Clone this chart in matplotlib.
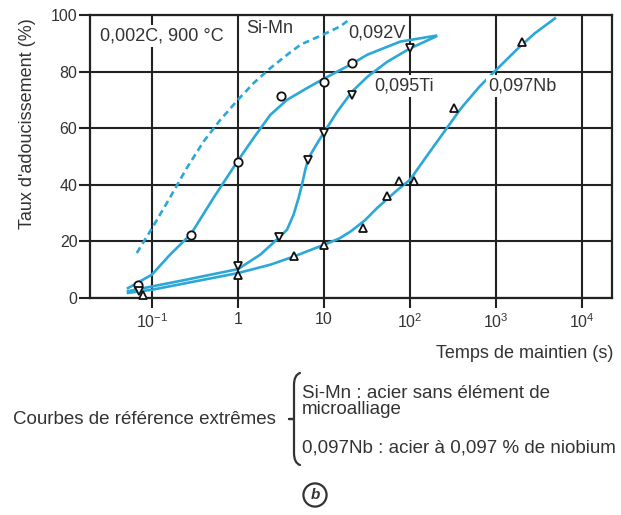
import numpy as np
import matplotlib
matplotlib.use('Agg')
import matplotlib.pyplot as plt
from matplotlib.patches import PathPatch
from matplotlib.path import Path

plt.rcParams['font.family'] = ['Liberation Sans', 'DejaVu Sans']
plt.rcParams['mathtext.fontset'] = 'custom'
plt.rcParams['mathtext.rm'] = 'Liberation Sans'
plt.rcParams['mathtext.default'] = 'regular'

# Softening curves, holding time (s) vs softening ratio (%)
simn_x = [0.067, 0.1, 0.163, 0.255, 0.40, 0.62, 1.0, 1.52, 2.38, 3.72, 5.4, 10, 15.5, 20.5]
simn_y = [15.9, 24.5, 35.5, 45.9, 55.3, 62.8, 70, 75.9, 81.2, 85.9, 89.6, 93.2, 96.0, 98.8]

v_curve_x = [0.053, 0.1, 0.163, 0.284, 0.52, 1.0, 1.52, 2.38, 3.72, 6.3, 10, 21.3, 32, 77, 200]
v_curve_y = [3.5, 8.2, 15.3, 22.5, 35.3, 48.5, 56.5, 64.7, 70.0, 74.1, 77.5, 82.8, 86.0, 90.6, 92.7]
v_pts_x = [0.07, 0.284, 1.0, 3.18, 10, 21.3]
v_pts_y = [4.5, 22.1, 48, 71.5, 76.5, 82.9]

ti_curve_x = [0.053, 0.255, 1.0, 1.82, 2.97, 3.72, 4.43, 5.07, 5.55, 6.07, 6.6, 7.92, 9.06,
              10, 14.3, 21.3, 32, 54.5, 100, 200]
ti_curve_y = [2.4, 6.5, 10.2, 15.3, 21.2, 24.1, 29.4, 35.3, 40, 45.3, 49.4, 53.5, 56.4,
              58.5, 65.9, 73, 78.2, 83.5, 88.2, 92.4]
ti_pts_x = [0.072, 1.0, 2.97, 6.6, 10, 21.3, 100]
ti_pts_y = [2.5, 11.2, 21.4, 48.8, 58.2, 71.8, 88.5]

nb_curve_x = [0.053, 0.1, 0.255, 1.0, 2.4, 4.5, 10, 15, 20.4, 30, 41.4, 71.5, 100, 160, 250,
              390, 640, 1000, 1790, 2800, 4800]
nb_curve_y = [1.8, 2.9, 5.3, 8.8, 11.8, 14.7, 18.8, 21.0, 23.5, 27.5, 31.8, 38.2, 41.8, 50.6,
              58.8, 67, 74.7, 80.6, 88.2, 93.5, 98.8]
nb_pts_x = [0.08, 1.0, 4.52, 10, 28.7, 53.7, 75.2, 110, 327, 2000]
nb_pts_y = [1.0, 8.2, 14.7, 18.8, 24.7, 36.2, 41.4, 41.4, 67, 90.4]

x_ticks = [0.1, 1, 10, 100, 1000, 10000]
x_labels = ['$10^{-1}$', '1', '10', '$10^2$', '$10^3$', '$10^4$']
y_ticks = [0, 20, 40, 60, 80, 100]

CURVE = '#2ba8d8'
INK = '#333333'
GRID = '#222222'

W, H = 621, 515
fig = plt.figure(figsize=(W / 100, H / 100), dpi=100)
ax = fig.add_axes([90 / W, 1 - 298 / H, 522 / W, 283 / H])
ax.set_xscale('log')
ax.set_xlim(10 ** -1.717, 10 ** 4.345)
ax.set_ylim(0, 100)

ax.set_xticks(x_ticks)
ax.set_xticklabels(x_labels)
ax.xaxis.set_minor_locator(matplotlib.ticker.NullLocator())
ax.set_yticks(y_ticks)
ax.tick_params(axis='x', length=7, width=1.5, color=GRID, pad=3,
               labelsize=11.5, labelcolor=INK)
ax.tick_params(axis='y', length=8, width=1.5, color=GRID, pad=1,
               labelsize=11.5, labelcolor=INK)
ax.grid(True, color=GRID, linewidth=1.5)
for s in ax.spines.values():
    s.set_color(GRID)
    s.set_linewidth(1.6)

# curves
line = dict(color=CURVE, lw=1.9, zorder=3, solid_joinstyle='round', dash_joinstyle='round')
ax.plot(simn_x, simn_y, ls=(0, (2.5, 1.6)), **line)
ax.plot(v_curve_x, v_curve_y, **line)
ax.plot(ti_curve_x, ti_curve_y, **line)
ax.plot(nb_curve_x, nb_curve_y, **line)

# measured points
mk = dict(ls='none', mfc='white', mec='#111111', mew=1.3, ms=6, zorder=4, clip_on=False)
ax.plot(v_pts_x, v_pts_y, marker='o', **mk)
ax.plot(ti_pts_x, ti_pts_y, marker='v', **mk)
ax.plot(nb_pts_x, nb_pts_y, marker='^', **mk)

# labels inside the plot
lab = dict(fontsize=13, color=INK, va='center', ha='left', zorder=5)
wbox = dict(facecolor='white', edgecolor='none', pad=1.5)
ax.text(0.0254, 92.6, '0,002C, 900 °C', bbox=wbox, **lab)
ax.text(1.26, 95.4, 'Si-Mn', **lab)
ax.text(19.3, 93.6, '0,092V', **lab)
ax.text(38.7, 74.9, '0,095Ti', bbox=wbox, **lab)
ax.text(817, 74.9, '0,097Nb', bbox=wbox, **lab)

fig.text(28 / W, 1 - 124 / H, "Taux d'adoucissement (%)", rotation=90,
         ha='center', va='center', fontsize=13, color=INK)
fig.text(613 / W, 1 - 353 / H, 'Temps de maintien (s)', ha='right', va='center',
         fontsize=13, color=INK)

# legend block under the chart
cap = dict(fontsize=13.5, color=INK, va='center', ha='left')
fig.text(13 / W, 1 - 419 / H, 'Courbes de référence extrêmes', **cap)
fig.text(302 / W, 1 - 394 / H, 'Si-Mn : acier sans élément de', **cap)
fig.text(302 / W, 1 - 410 / H, 'microalliage', **cap)
fig.text(302 / W, 1 - 448 / H, '0,097Nb : acier à 0,097 % de niobium', **cap)


def px(x, y):
    return (x / W, 1 - y / H)


brace = [px(300, 373), px(294, 375), px(294, 385), px(294, 400),
         px(294, 412), px(294, 419), px(289, 419),
         px(294, 419), px(294, 426), px(294, 438),
         px(294, 453), px(294, 463), px(300, 465)]
codes = [Path.MOVETO, Path.CURVE3, Path.CURVE3, Path.LINETO,
         Path.CURVE3, Path.CURVE3, Path.LINETO,
         Path.LINETO, Path.CURVE3, Path.CURVE3,
         Path.LINETO, Path.CURVE3, Path.CURVE3]
fig.add_artist(PathPatch(Path(brace, codes), transform=fig.transFigure,
                         fill=False, edgecolor=INK, lw=1.6, capstyle='round',
                         joinstyle='round'))

fig.text(315 / W, 1 - 495 / H, 'b', ha='center', va='center', fontsize=11,
         fontweight='bold', fontstyle='italic', color=INK,
         bbox=dict(boxstyle='circle,pad=0.3', facecolor='white', edgecolor=INK, lw=1.6))

fig.savefig('out.png', dpi=100)
